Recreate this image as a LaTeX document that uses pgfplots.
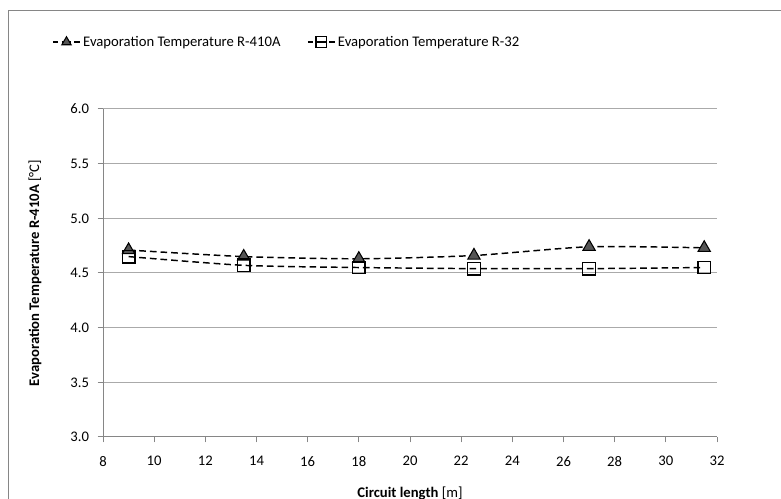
\documentclass[border=0pt]{standalone}
\usepackage{pgfplots}
\pgfplotsset{compat=1.18}
\usepackage{fontspec}
\setmainfont{Carlito}
\definecolor{gridgray}{RGB}{170,170,170}
\definecolor{axgray}{RGB}{134,134,134}
\definecolor{trifill}{RGB}{85,85,85}
\begin{document}
\begin{tikzpicture}
\useasboundingbox (0,0) rectangle (585.75pt,374.25pt);
\draw[axgray,line width=0.75pt] (6pt,0pt) -- (6pt,366pt) -- (585.75pt,366pt);
\begin{axis}[
  at={(77.25pt,46.5pt)}, anchor=south west,
  scale only axis, width=460.5pt, height=246pt,
  xmin=8, xmax=32, ymin=3, ymax=6,
  xtick={8,10,...,32}, ytick={3,3.5,...,6},
  /pgf/number format/assume math mode=true,
  yticklabel style={/pgf/number format/fixed, /pgf/number format/fixed zerofill, /pgf/number format/precision=1, xshift=-3pt},
  font=\fontsize{11pt}{13pt}\selectfont,
  axis x line*=bottom, axis y line*=left,
  axis line style={axgray, line width=0.75pt},
  tick style={axgray, line width=0.75pt},
  tick align=outside, major tick length=4pt,
  ymajorgrids, grid style={gridgray, line width=0.75pt},
  xticklabel style={yshift=-7pt},
  xlabel={\textbf{Circuit length} [m]},
  ylabel={\textbf{Evaporation Temperature R-410A} [°C]},
  xlabel style={at={(axis description cs:0.5,-0.1707)}, anchor=center},
  ylabel style={at={(axis description cs:-0.1107,0.5)}, anchor=center},
  legend columns=2,
  legend style={at={(axis description cs:0.300,1.204)}, anchor=center, draw=none, fill=none,
    /tikz/every even column/.append style={column sep=18pt},
    font=\fontsize{11pt}{13pt}\selectfont},
  legend image code/.code={%
    \draw[#1,solid,mark=none] (0pt,0pt)--(4pt,0pt) (6.5pt,0pt)--(13.5pt,0pt) (16pt,0pt)--(20pt,0pt);
    \draw[#1,only marks,mark size=4pt] plot coordinates {(10pt,0pt)};},
]
\addplot[black, line width=1.1pt, dash pattern=on 5pt off 3pt, smooth, tension=0.4,
  mark=triangle*, mark size=5.3pt,
  mark options={solid, fill=trifill, draw=black, line width=0.8pt}]
  coordinates {(9,4.71) (13.5,4.65) (18,4.63) (22.5,4.66) (27,4.74) (31.5,4.73)};
\addlegendentry{Evaporation Temperature R-410A}
\addplot[black, line width=1.1pt, dash pattern=on 5pt off 3pt, smooth, tension=0.4,
  mark=square, mark size=4.7pt,
  mark options={solid, draw=black, line width=1pt}]
  coordinates {(9,4.65) (13.5,4.57) (18,4.55) (22.5,4.54) (27,4.54) (31.5,4.55)};
\addlegendentry{Evaporation Temperature R-32}
\end{axis}
\end{tikzpicture}
\end{document}
